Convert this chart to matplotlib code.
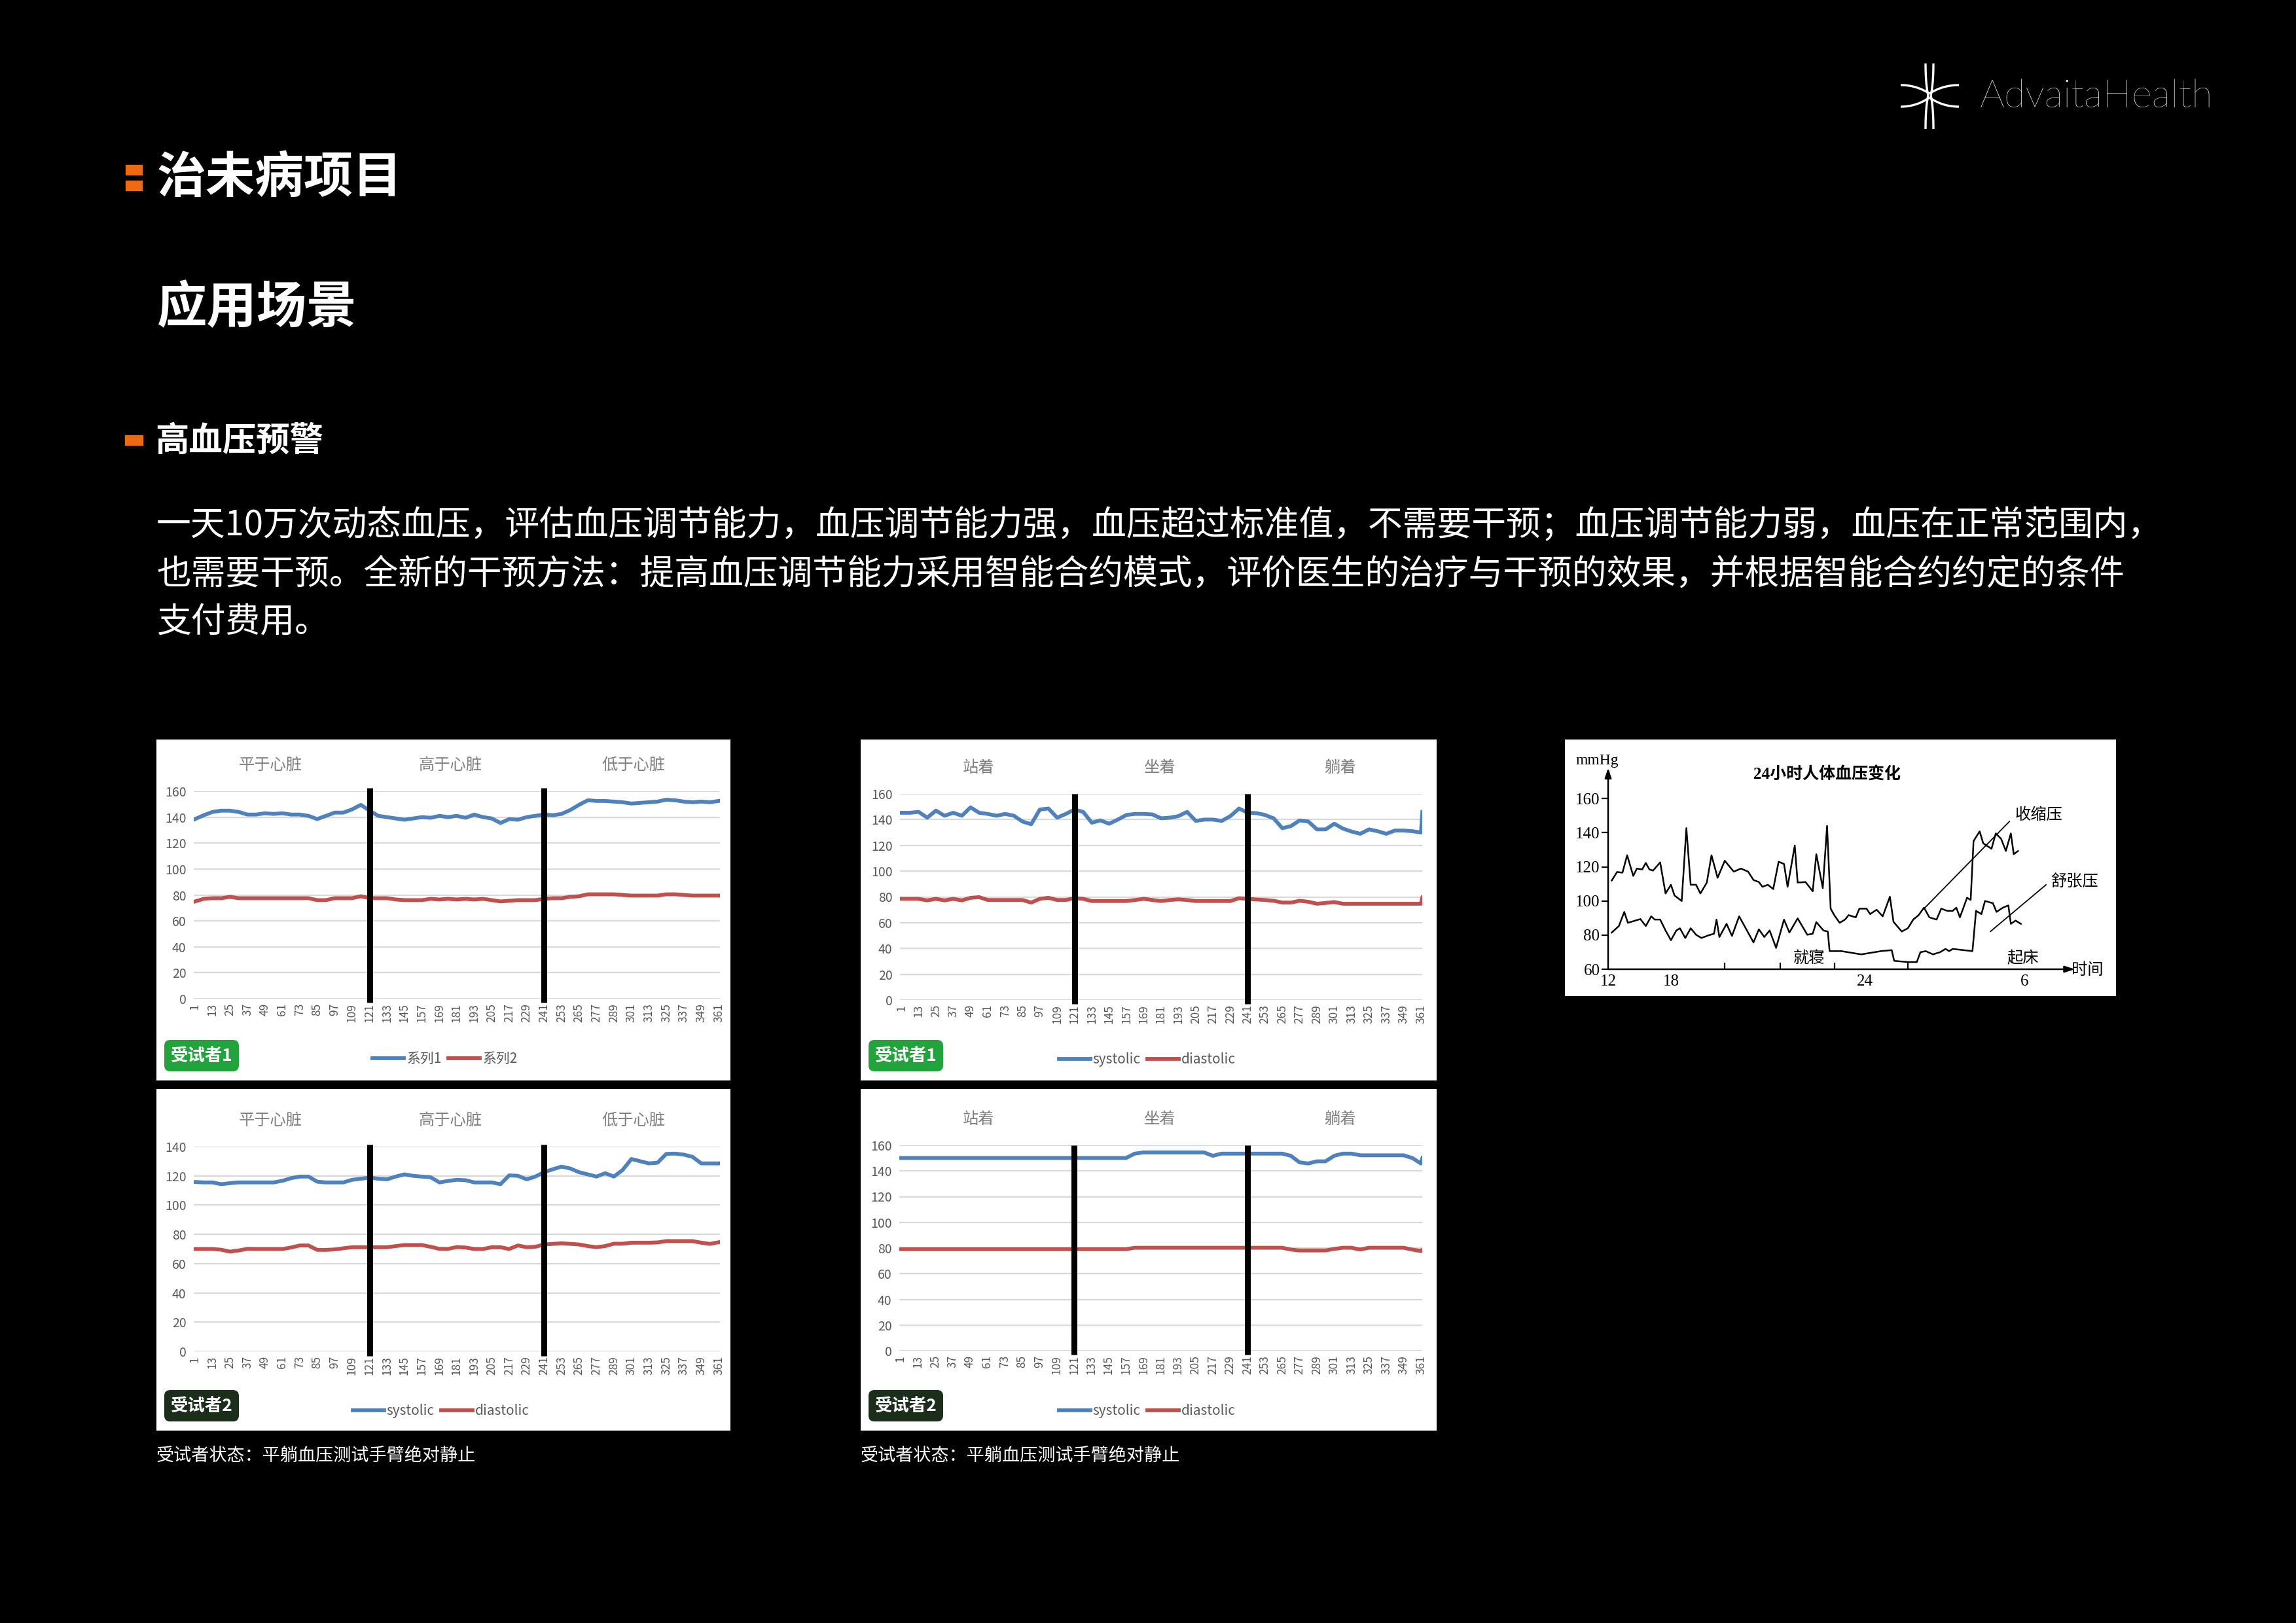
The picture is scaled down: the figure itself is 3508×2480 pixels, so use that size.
import numpy as np
import matplotlib
matplotlib.use("Agg")
import matplotlib.pyplot as plt
from matplotlib.patches import Rectangle, FancyBboxPatch

plt.rcParams['font.family'] = ['Noto Sans CJK SC', 'DejaVu Sans']

W, H = 3508, 2480

# sample index of the Excel line charts (category axis)
idx = list(range(1, 362, 6))
idx_end = idx + [362]
tick_pos = list(range(1, 362, 12))
tick_lab = [str(t) for t in tick_pos]

# subject 1, arm level (平于/高于/低于心脏)
a_sys = [138.5, 141.5, 144, 145, 145, 144, 142, 142, 143, 142.5,
         143, 142, 142, 141, 138.5, 141, 143.5, 143.5, 146, 149.5,
         145, 141, 140, 139, 138, 139, 140, 139.5, 141, 140,
         141, 139.5, 142, 140, 139, 135.5, 138.5, 138, 140, 141,
         142, 141.5, 142.5, 145.5, 149.5, 153, 152.5, 152.5, 152, 151.5,
         150.5, 151, 151.5, 152, 153.5, 153, 152, 151.5, 152, 151.5,
         152.5]
a_dia = [75, 77, 77.5, 77.5, 78.5, 77.5, 77.5, 77.5, 77.5, 77.5,
         77.5, 77.5, 77.5, 77.5, 76, 76, 77.5, 77.5, 77.5, 79,
         77.5, 77.5, 77.5, 76.5, 76, 76, 76, 77, 76.5, 77,
         76.5, 77, 76.5, 77, 76, 75, 75.5, 76, 76, 76,
         77, 77.5, 77.5, 78.5, 79, 80.5, 80.5, 80.5, 80.5, 80,
         79.5, 79.5, 79.5, 79.5, 80.5, 80.5, 80, 79.5, 79.5, 79.5,
         79.5]

# subject 2, arm level
b_sys = [115.8, 115.5, 115.5, 114.3, 115, 115.5, 115.5, 115.5, 115.5, 115.5,
         116.6, 118.4, 119.5, 119.5, 116, 115.5, 115.5, 115.5, 117.3, 118,
         118.8, 118, 117.6, 119.5, 121, 120, 119.5, 119, 115.5, 116.5,
         117.3, 117, 115.5, 115.5, 115.5, 114.3, 120.3, 120, 117.6, 119.5,
         122.5, 124.5, 126.3, 125, 122.5, 121, 119.5, 121.8, 119.5, 124,
         131.5, 130, 128.5, 129, 135, 135.2, 134.5, 133, 128.5, 128.5,
         128.5]
b_dia = [70, 70, 70, 69.5, 68.2, 69, 70.1, 70, 70, 70,
         70, 71, 72.4, 72.4, 69.4, 69.4, 69.7, 70.5, 71.2, 71.2,
         71.2, 71.2, 71.2, 72, 72.7, 72.7, 72.7, 71.5, 70.1, 70.1,
         71.3, 71, 70, 70, 71.2, 71.2, 70, 72.4, 71.2, 71.5,
         73.1, 73.5, 73.9, 73.5, 73.1, 72, 71.2, 72, 73.6, 73.6,
         74.3, 74.3, 74.3, 74.5, 75.4, 75.4, 75.4, 75.4, 74.3, 73.5,
         74.6]

# subject 1, posture (站着/坐着/躺着), last point is the jump at the end
c_sys = [145.3, 145.3, 146, 141.5, 147, 143, 145.3, 143, 149.5, 145.3,
         144.4, 143, 144.4, 143, 138.5, 136.4, 147.8, 148.6, 141.5, 144.4,
         147.8, 146, 137.6, 139.4, 136.8, 140, 143.6, 144.4, 144.4, 144,
         141, 141.5, 142.7, 146, 139, 140, 140, 139, 142.7, 148.6,
         145.3, 145, 143.6, 141, 133.3, 135, 139.4, 138.5, 132.4, 132.4,
         136.8, 133, 130.7, 129, 132.4, 131, 129, 131.5, 131.5, 131,
         130, 146]
c_dia = [78.5, 78.5, 78.5, 77.3, 78.5, 77.3, 78.5, 77.3, 79.3, 79.8,
         77.6, 77.6, 77.6, 77.6, 77.6, 75.6, 78.5, 79.3, 77.6, 77.6,
         79, 78.5, 76.8, 76.8, 76.8, 76.8, 76.8, 77.6, 78.5, 77.6,
         76.8, 77.6, 78.1, 77.6, 76.8, 76.8, 76.8, 76.8, 76.8, 79,
         78.5, 78, 77.6, 77, 75.6, 75.6, 77, 76.2, 74.7, 75.3,
         76, 74.7, 74.7, 74.7, 74.7, 74.7, 74.7, 74.7, 74.7, 74.7,
         74.7, 79.5]

# subject 2, posture
d_sys = [150.1, 150.1, 150.1, 150.1, 150.1, 150.1, 150.1, 150.1, 150.1, 150.1,
         150.1, 150.1, 150.1, 150.1, 150.1, 150.1, 150.1, 150.1, 150.1, 150.1,
         150.1, 150.1, 150.1, 150.1, 150.1, 150.1, 150.1, 153.5, 154.4, 154.4,
         154.4, 154.4, 154.4, 154.4, 154.4, 154.4, 151.8, 153.5, 153.5, 153.5,
         153.5, 153.5, 153.5, 153.5, 153.5, 151.8, 146.7, 145.8, 147.5, 147.5,
         151.8, 153.5, 153.5, 152.2, 152.2, 152.2, 152.2, 152.2, 152.2, 150.1,
         145.8, 150]
d_dia = [79.1, 79.1, 79.1, 79.1, 79.1, 79.1, 79.1, 79.1, 79.1, 79.1,
         79.1, 79.1, 79.1, 79.1, 79.1, 79.1, 79.1, 79.1, 79.1, 79.1,
         79.1, 79.1, 79.1, 79.1, 79.1, 79.1, 79.1, 80.2, 80.2, 80.2,
         80.2, 80.2, 80.2, 80.2, 80.2, 80.2, 80.2, 80.2, 80.2, 80.2,
         80.2, 80.2, 80.2, 80.2, 80.2, 78.8, 78.1, 78.1, 78.1, 78.1,
         79.3, 80.2, 80.2, 78.8, 80.2, 80.2, 80.2, 80.2, 80.2, 78.8,
         77.6, 78.5]

# 24h curve (time axis in drawing units, 12h -> 14, 6h -> 130)
sys_t = [15, 16.5, 18, 19.3, 21, 22, 23.5, 24.5, 25.5, 26.5,
         28.5, 30, 31.5, 32.5, 34.5, 35.8, 37, 38.5, 39.7, 41.5,
         42.8, 44.5, 46.5, 49, 51, 53, 54.5, 56, 57, 58.5,
         60, 61.5, 63, 64, 66, 66.8, 69, 71, 72, 73.8,
         75, 76, 77, 78.5, 80, 81, 83, 84, 86, 87,
         88.8, 90.5, 92.5, 93.5, 95.8, 97.5, 99, 100.5, 102, 103.5,
         105.5, 106.8, 108.5, 110, 111, 112, 114, 115, 115.8, 117.5,
         118.5, 120.8, 122, 123.5, 124.8, 126.2, 127, 128.2]
sys_24 = [112, 117, 116.6, 126.8, 114.7, 119, 118.5, 122.3, 118.5, 117.8,
          122.6, 104.4, 109.5, 103.2, 100, 142.7, 109.5, 109.5, 104.4, 110.8,
          126.8, 113.6, 123.6, 117.2, 119, 117.2, 112.3, 111.1, 108.3, 109.5,
          107, 123, 121.7, 108.3, 132.5, 110.8, 111.1, 105.7, 127.4, 107.6,
          144, 95.5, 91.7, 87.2, 89.1, 91.7, 90.4, 95.5, 95.5, 92.3,
          94.9, 91, 102.5, 87.8, 82.1, 84, 89.1, 91.7, 96.1, 90.4,
          89.1, 95.5, 94.2, 94.2, 96.1, 90.4, 101.9, 100.6, 135.1, 140.8,
          133.8, 130.6, 139.6, 136.4, 129.3, 139.6, 127.4, 129.3]
dia_t = [15, 17, 18.5, 19.5, 23, 24.5, 26, 27, 28.5, 30,
         31.5, 33, 34, 35.5, 37, 38.5, 40, 42, 43.5, 44.2,
         45, 47, 48.5, 50.5, 52, 54.5, 56, 57.5, 59, 60.8,
         63, 64.5, 66.8, 69.5, 71, 72, 74, 75.2, 75.7, 79,
         84.5, 90, 93, 93.7, 97.5, 100, 101, 102.5, 104.5, 106.5,
         108, 109, 110, 115.5, 116.5, 118, 119, 121.2, 122.2, 124,
         125.5, 126.2, 127.5, 129]
dia_24 = [81.5, 85.3, 93.6, 87.2, 89.4, 85.3, 91, 89.1, 89.1, 82.7,
          77, 82.7, 84, 78.3, 84, 80.2, 78.3, 79.9, 80.8, 89.1,
          78.9, 86.6, 79.5, 91, 85.3, 75.7, 83.4, 78.9, 82.7, 72.5,
          89.1, 81.5, 89.8, 80.2, 80.8, 87.6, 82.7, 82.1, 70.6, 70.6,
          68.7, 70.6, 71.2, 64.9, 64.2, 64.2, 70, 70.6, 68.7, 70,
          71.9, 70.6, 71.9, 70.6, 94.2, 92.3, 100, 98.7, 93.6, 96.1,
          97.4, 86.6, 88.5, 86.6]
hour_pos = [14, 31.5, 85.5, 130]
hour_lab = ['12', '18', '24', '6']
hour_minor = [31.5, 46.5, 62, 77, 97.5]

line1 = "一天10万次动态血压，评估血压调节能力，血压调节能力强，血压超过标准值，不需要干预；血压调节能力弱，血压在正常范围内，"
line2 = "也需要干预。全新的干预方法：提高血压调节能力采用智能合约模式，评价医生的治疗与干预的效果，并根据智能合约约定的条件"
line3 = "支付费用。"

BLUE = '#4F81BD'
RED = '#C0504D'
ORANGE = '#EE6A12'

fig = plt.figure(figsize=(W / 100, H / 100), dpi=100, facecolor='black')
bg = fig.add_axes([0, 0, 1, 1])
bg.set_xlim(0, W)
bg.set_ylim(H, 0)
bg.axis('off')
bg.set_facecolor('black')


def bez(p0, c, p1, n=30):
    t = np.linspace(0, 1, n)[:, None]
    return (1 - t) ** 2 * np.array(p0) + 2 * (1 - t) * t * np.array(c) + t ** 2 * np.array(p1)


# logo
cx, cy = 2948, 146
for seg in [((2942, 97), (2942, 128), (cx - 2, cy)), ((cx - 2, cy), (2942, 164), (2942, 197)),
            ((2954, 97), (2954, 128), (cx + 2, cy)), ((cx + 2, cy), (2954, 164), (2954, 197)),
            ((2904, 130), (2928, 130), (cx, cy - 3)), ((cx, cy - 3), (2968, 130), (2993, 130)),
            ((2904, 163), (2928, 163), (cx, cy + 3)), ((cx, cy + 3), (2968, 163), (2993, 163))]:
    p = bez(*seg)
    bg.plot(p[:, 0], p[:, 1], color='white', lw=2.4, solid_capstyle='butt')
bg.text(3025, 148, "AdvaitaHealth", color='white', fontsize=43, family=['Lato', 'DejaVu Sans'],
        fontweight='light', va='center', ha='left')

# headings
bg.add_patch(Rectangle((192, 252), 25, 15, color=ORANGE))
bg.add_patch(Rectangle((192, 276), 25, 15, color=ORANGE))
bg.text(240, 272, "治未病项目", color='white', fontsize=54, fontweight='bold', va='center')
bg.text(240, 470, "应用场景", color='white', fontsize=55, fontweight='bold', va='center')
bg.add_patch(Rectangle((191, 665), 27, 15, color=ORANGE))
bg.text(237, 673, "高血压预警", color='white', fontsize=37, fontweight='bold', va='center')
for i, ln in enumerate([line1, line2, line3]):
    bg.text(239, 803 + 74 * i, ln, color='white', fontsize=38, va='center')


def panel(box, area, ymax, xs, sv, dv, sections, names, badge_text, badge_color, leg, div_top):
    x0, y0, x1, y1 = box
    bg.add_patch(Rectangle((x0, y0), x1 - x0, y1 - y0, facecolor='white', edgecolor='none'))
    px1, px361, py0, pytop = area
    sx = (px361 - px1) / 360
    left, right = px1 - sx, px361 + sx
    ax = fig.add_axes([left / W, 1 - py0 / H, (right - left) / W, (py0 - pytop) / H])
    ax.set_facecolor('none')
    ax.set_xlim(0, 362)
    ax.set_ylim(0, ymax)
    ax.plot(xs[:len(sv)], sv, color=BLUE, lw=4.2, label=names[0])
    ax.plot(xs[:len(dv)], dv, color=RED, lw=4.2, label=names[1])
    ax.vlines([121, 241], -3, div_top, color='black', lw=6.5, clip_on=False, zorder=5)
    ax.set_yticks(range(0, ymax + 1, 20))
    ax.set_xticks(tick_pos)
    ax.set_xticklabels(tick_lab, rotation=90)
    ax.tick_params(length=0, labelcolor='#595959')
    ax.tick_params(axis='x', labelsize=12.5, pad=5)
    ax.tick_params(axis='y', labelsize=14, pad=8)
    ax.grid(axis='y', color='#D9D9D9', lw=1.6)
    ax.set_axisbelow(True)
    for s in ax.spines.values():
        s.set_visible(False)
    for (tx, txt) in sections:
        bg.text(tx, pytop - 40, txt, color='#7F7F7F', fontsize=17.5, ha='center', va='center')
    bx0 = x0 + 12
    by0 = y1 - 62
    bg.add_patch(FancyBboxPatch((bx0, by0), 114, 48, boxstyle='round,pad=0,rounding_size=9',
                                facecolor=badge_color, edgecolor='none'))
    bg.text(bx0 + 57, by0 + 25, badge_text, color='white', fontsize=19, fontweight='bold',
            ha='center', va='center')
    ax.legend(loc='center', bbox_to_anchor=(leg[0] / W, 1 - leg[1] / H), bbox_transform=fig.transFigure,
              ncol=2, frameon=False, fontsize=15, handlelength=2.3, handletextpad=0.2,
              columnspacing=0.5, labelcolor='#595959')
    return ax


arm = [(413, "平于心脏"), (688, "高于心脏"), (968, "低于心脏")]
pose = [(1495, "站着"), (1771, "坐着"), (2047, "躺着")]

panel((239, 1130, 1116, 1651), (298, 1098, 1526, 1209), 160, idx, a_sys, a_dia, arm,
      ['系列1', '系列2'], "受试者1", '#23A33B', (680, 1618), 162.5)
panel((239, 1664, 1116, 2186), (298, 1098, 2065, 1752), 140, idx, b_sys, b_dia, arm,
      ['systolic', 'diastolic'], "受试者2", '#1B2E1B', (674, 2156), 141.5)
panel((1315, 1130, 2195, 1651), (1377, 2171, 1528, 1213), 160, idx_end, c_sys, c_dia, pose,
      ['systolic', 'diastolic'], "受试者1", '#23A33B', (1753, 1619), 160)
panel((1315, 1664, 2195, 2186), (1376, 2171, 2064, 1750), 160, idx_end, d_sys, d_dia, pose,
      ['systolic', 'diastolic'], "受试者2", '#1B2E1B', (1753, 2156), 160)

for x in (239, 1315):
    bg.text(x, 2224, "受试者状态：平躺血压测试手臂绝对静止", color='white', fontsize=19.5, va='center')

# 24 hour chart
bg.add_patch(Rectangle((2391, 1130), 3233 - 2391, 1522 - 1130, facecolor='white', edgecolor='none'))
x14, x142, y60, y177 = 2457, 3159, 1481, 1176
ax5 = fig.add_axes([x14 / W, 1 - y60 / H, (x142 - x14) / W, (y60 - y177) / H])
ax5.set_facecolor('none')
ax5.set_xlim(14, 142)
ax5.set_ylim(60, 177)
ax5.plot(sys_t, sys_24, color='black', lw=1.8)
ax5.plot(dia_t, dia_24, color='black', lw=1.8)
for s in ax5.spines.values():
    s.set_visible(False)
arrow = dict(arrowstyle='-|>,head_length=0.9,head_width=0.3', lw=1.8, color='black', shrinkA=0, shrinkB=0)
ax5.annotate('', xy=(14, 178), xytext=(14, 60), arrowprops=arrow, annotation_clip=False)
ax5.annotate('', xy=(144, 60), xytext=(14, 60), arrowprops=arrow, annotation_clip=False)
serif = ['Liberation Serif', 'Noto Sans CJK SC']
ax5.set_yticks([60, 80, 100, 120, 140, 160])
ax5.set_yticklabels(['60', '80', '100', '120', '140', '160'], family=serif, fontsize=18)
ax5.tick_params(axis='y', direction='out', length=7, width=1.6, pad=2)
ax5.set_xticks(hour_pos)
ax5.set_xticklabels(hour_lab, family=serif, fontsize=18)
ax5.set_xticks(hour_minor, minor=True)
ax5.tick_params(axis='x', which='major', length=0, pad=6)
ax5.tick_params(axis='x', which='minor', direction='in', length=7, width=1.6)
ax5.text(11, 182, "mmHg", family=serif, fontsize=17, ha='center', va='center')
ax5.text(75, 174, "24小时人体血压变化", family=serif, fontsize=18, fontweight='bold', ha='center', va='center')
ax5.plot([125.8, 102], [146.6, 95.5], color='black', lw=1.3)
ax5.plot([136, 120.5], [109.5, 82.1], color='black', lw=1.3)
ax5.text(134, 150.5, "收缩压", fontsize=17.5, ha='center', va='center')
ax5.text(144, 111, "舒张压", fontsize=17.5, ha='center', va='center')
ax5.text(70, 66.5, "就寝", fontsize=17.5, ha='center', va='center')
ax5.text(129.5, 66.5, "起床", fontsize=17.5, ha='center', va='center')
ax5.text(147.5, 59.5, "时间", fontsize=17.5, ha='center', va='center')

fig.savefig("out.png", dpi=100, facecolor='black')
